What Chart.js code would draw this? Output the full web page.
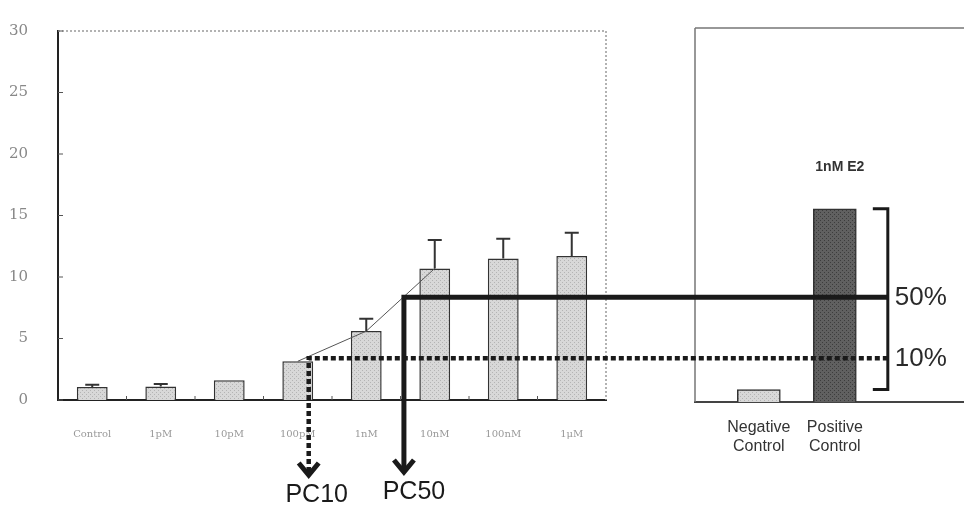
<!DOCTYPE html>
<html>
<head>
<meta charset="utf-8">
<script src="https://cdn.jsdelivr.net/npm/chart.js@4"></script>
<style>
  body { margin: 0; background: #fff; }
  #wrap { position: relative; width: 964px; height: 510px; }
  #wrap canvas { position: absolute; left: 0; top: 0; }
</style>
</head>
<body>
<div id="wrap">
  <canvas id="doseChart" width="964" height="510"></canvas>
  <canvas id="ctrlChart" width="964" height="510"></canvas>
</div>
<script>
// dose response (fold induction)
var categories = ['Control', '1pM', '10pM', '100pM', '1nM', '10nM', '100nM', '1μM'];
var meanValues = [1.05, 1.1, 1.6, 3.15, 5.6, 10.7, 11.5, 11.7];
var errorTops = [1.25, 1.3, null, null, 6.6, 13.0, 13.1, 13.6];
var trendValues = [null, null, null, 3.15, 5.6, 10.7, null, null];
var yTicks = [0, 5, 10, 15, 20, 25, 30];

// controls panel
var controlLabels = [['Negative', 'Control'], ['Positive', 'Control']];
var controlPositions = [1, 2];
var controlValues = [1.0, 15.5];
var positiveLabel = '1nM E2';

// PC10 / PC50 read-off
var pcNames = ['PC10', 'PC50'];
var pcPercent = ['10%', '50%'];
var pcLevels = [3.4, 8.35];
var pcIndex = [3.16, 4.55];

function hatch(base, dot) {
    var c = document.createElement('canvas');
    c.width = 4; c.height = 4;
    var g = c.getContext('2d');
    g.fillStyle = base; g.fillRect(0, 0, 4, 4);
    g.fillStyle = dot; g.fillRect(0, 0, 1, 1); g.fillRect(2, 2, 1, 1);
    return g.createPattern(c, 'repeat');
}
var lightFill = hatch('#d8d8d8', '#b4b4b4');
var darkFill = hatch('#606060', '#3c3c3c');

// frame lines + small inner ticks
var framePlugin = {
    id: 'frame',
    afterDraw: function(chart, args, opts) {
        var ctx = chart.ctx, a = chart.chartArea;
        ctx.save();
        ctx.strokeStyle = opts.color;
        ctx.lineWidth = 1.5;
        ctx.setLineDash(opts.dash || []);
        ctx.beginPath();
        ctx.moveTo(a.left, a.top); ctx.lineTo(a.right, a.top);
        if (opts.side === 'right') { ctx.moveTo(a.right, a.top); ctx.lineTo(a.right, a.bottom); }
        if (opts.side === 'left') { ctx.moveTo(a.left, a.top); ctx.lineTo(a.left, a.bottom); }
        ctx.stroke();
        ctx.setLineDash([]);
        if (opts.ticks) {
            var y = chart.scales.y, x = chart.scales.x;
            ctx.strokeStyle = '#555';
            ctx.lineWidth = 1;
            ctx.beginPath();
            yTicks.forEach(function(t) {
                var py = y.getPixelForValue(t);
                ctx.moveTo(a.left, py); ctx.lineTo(a.left + 5, py);
            });
            for (var i = 1; i < categories.length; i++) {
                var px = x.getPixelForValue(i - 0.5);
                ctx.moveTo(px, a.bottom); ctx.lineTo(px, a.bottom - 4);
            }
            ctx.stroke();
        }
        ctx.restore();
    }
};

// upward error bars
var errorPlugin = {
    id: 'errs',
    afterDatasetsDraw: function(chart) {
        var ctx = chart.ctx, y = chart.scales.y;
        var meta = chart.getDatasetMeta(1);
        ctx.save();
        ctx.strokeStyle = '#333';
        ctx.lineWidth = 2;
        errorTops.forEach(function(v, i) {
            if (v == null) return;
            var bar = meta.data[i];
            var top = y.getPixelForValue(v);
            ctx.beginPath();
            ctx.moveTo(bar.x, bar.y); ctx.lineTo(bar.x, top);
            ctx.moveTo(bar.x - 7, top); ctx.lineTo(bar.x + 7, top);
            ctx.stroke();
        });
        ctx.restore();
    }
};

var doseChart = new Chart(document.getElementById('doseChart'), {
    data: {
        labels: categories,
        datasets: [{
            type: 'line',
            data: trendValues,
            borderColor: '#555',
            borderWidth: 1,
            pointRadius: 0,
            order: 1
        }, {
            type: 'bar',
            data: meanValues,
            backgroundColor: lightFill,
            borderColor: '#333',
            borderWidth: 1.5,
            categoryPercentage: 1,
            barPercentage: 0.45,
            order: 2
        }]
    },
    options: {
        responsive: false,
        animation: false,
        layout: { padding: { left: 0, right: 358, top: 25, bottom: 0 } },
        plugins: {
            legend: { display: false },
            tooltip: { enabled: false },
            frame: { color: '#999', dash: [2, 2], side: 'right', ticks: true }
        },
        scales: {
            x: {
                grid: { display: false },
                border: { display: true, color: '#222', width: 2 },
                ticks: {
                    color: '#999',
                    font: { family: 'DejaVu Serif', size: 10 },
                    padding: 20,
                    autoSkip: false,
                    maxRotation: 0
                },
                afterFit: function(s) { s.height = 110; }
            },
            y: {
                min: 0, max: 30,
                afterBuildTicks: function(s) { s.ticks = yTicks.map(function(v) { return { value: v }; }); },
                grid: { display: false },
                border: { display: true, color: '#222', width: 2 },
                ticks: {
                    color: '#888',
                    font: { family: 'DejaVu Serif', size: 15 },
                    padding: 22
                },
                afterFit: function(s) { s.width = 58; }
            }
        }
    },
    plugins: [framePlugin, errorPlugin]
});

// PC lines, arrows, bracket and labels (on top of both panels)
var pcPlugin = {
    id: 'pc',
    afterDraw: function(chart) {
        var ctx = chart.ctx;
        var lx = doseChart.scales.x, ly = doseChart.scales.y;
        var ry = chart.scales.y;
        var bars = chart.getDatasetMeta(0).data;
        var pos = bars[1];
        var bx = pos.x + 53;
        var bTop = ry.getPixelForValue(controlValues[1]);
        var bBot = ry.getPixelForValue(controlValues[0]);
        ctx.save();
        ctx.strokeStyle = '#1a1a1a';
        ctx.fillStyle = '#1a1a1a';

        // bracket
        ctx.lineWidth = 3;
        ctx.beginPath();
        ctx.moveTo(bx - 15, bTop); ctx.lineTo(bx, bTop);
        ctx.lineTo(bx, bBot); ctx.lineTo(bx - 15, bBot);
        ctx.stroke();

        pcLevels.forEach(function(level, i) {
            var y = ly.getPixelForValue(level);
            var x = lx.getPixelForValue(pcIndex[i]);
            var tip = ly.bottom + (i === 0 ? 78 : 75);
            ctx.lineWidth = i === 0 ? 4.5 : 5;
            ctx.setLineDash(i === 0 ? [5, 3] : []);
            ctx.beginPath();
            ctx.moveTo(bx, y); ctx.lineTo(x, y); ctx.lineTo(x, tip - 4);
            ctx.stroke();
            ctx.setLineDash([]);
            // arrow head
            ctx.lineWidth = 5;
            ctx.lineJoin = 'miter';
            ctx.beginPath();
            ctx.moveTo(x - 10, tip - 15); ctx.lineTo(x, tip - 3); ctx.lineTo(x + 10, tip - 15);
            ctx.stroke();
            // labels
            ctx.font = '25px "Liberation Sans", Arial, sans-serif';
            ctx.textAlign = 'center';
            ctx.textBaseline = 'alphabetic';
            ctx.fillStyle = '#1a1a1a';
            ctx.fillText(pcNames[i], x + (i === 0 ? 8 : 10), tip + 24);
            ctx.textAlign = 'left';
            ctx.textBaseline = 'middle';
            ctx.font = '26px "Liberation Sans", Arial, sans-serif';
            ctx.fillStyle = '#2a2a2a';
            ctx.fillText(pcPercent[i], bx + 7, y + 1);
        });

        ctx.font = 'bold 14px "Liberation Sans", Arial, sans-serif';
        ctx.textAlign = 'center';
        ctx.textBaseline = 'middle';
        ctx.fillStyle = '#333';
        ctx.fillText(positiveLabel, pos.x + 5, pos.y - 42);
        ctx.restore();
    }
};

var ctrlChart = new Chart(document.getElementById('ctrlChart'), {
    type: 'bar',
    data: {
        datasets: [{
            data: controlPositions.map(function(p, i) { return { x: p, y: controlValues[i] }; }),
            backgroundColor: [lightFill, darkFill],
            borderColor: '#333',
            borderWidth: 1.5,
            barThickness: 43
        }]
    },
    options: {
        responsive: false,
        animation: false,
        layout: { padding: { left: 695, right: 0, top: 28, bottom: 0 } },
        plugins: {
            legend: { display: false },
            tooltip: { enabled: false },
            frame: { color: '#777', side: 'left' }
        },
        scales: {
            x: {
                type: 'linear',
                offset: false,
                min: 0.16, max: 3.7,
                afterBuildTicks: function(s) { s.ticks = controlPositions.map(function(v) { return { value: v }; }); },
                grid: { display: false },
                border: { display: true, color: '#444', width: 2 },
                ticks: {
                    color: '#333',
                    font: { family: 'Liberation Sans', size: 16 },
                    padding: 8,
                    maxRotation: 0,
                    callback: function(v) {
                        var i = controlPositions.indexOf(v);
                        return i >= 0 ? controlLabels[i] : '';
                    }
                },
                afterFit: function(s) { s.height = 108; }
            },
            y: { min: 0, max: 30, display: false }
        }
    },
    plugins: [framePlugin, pcPlugin]
});
</script>
</body>
</html>
